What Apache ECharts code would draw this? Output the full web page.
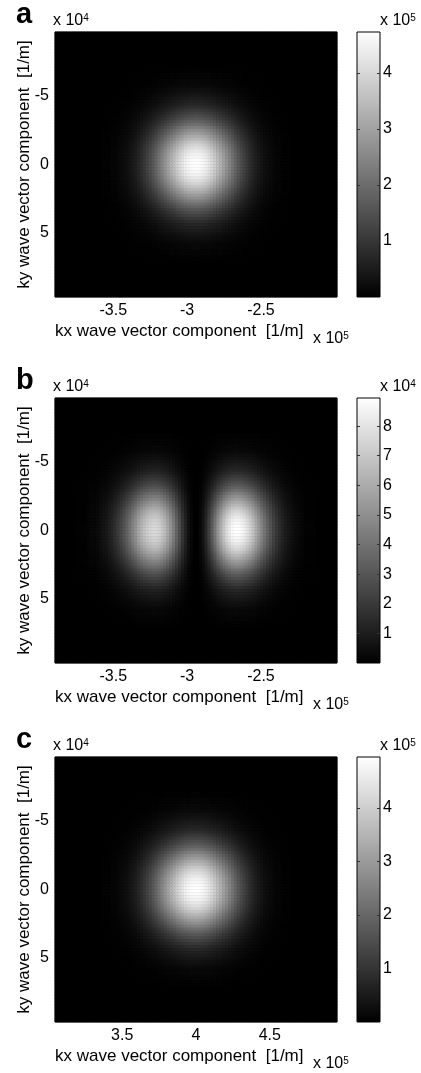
<!DOCTYPE html>
<html>
<head>
<meta charset="utf-8">
<script src="https://cdn.jsdelivr.net/npm/echarts@6/dist/echarts.min.js"></script>
<style>
  html, body { margin: 0; padding: 0; background: #fff; }
  #chart { width: 421px; height: 1073px; }
</style>
</head>
<body>
<div id="chart"></div>
<script>
// ---- axis extents [1/m] ----
const kxRangeA = [-3.895e5, -1.985e5];
const kxRangeB = [-3.895e5, -1.985e5];
const kxRangeC = [3.045e5, 4.955e5];
const kyRange = [-9.67e4, 9.67e4];

// ---- tick values ----
const kxTicksA = [-3.5e5, -3e5, -2.5e5];
const kxTicksB = [-3.5e5, -3e5, -2.5e5];
const kxTicksC = [3.5e5, 4e5, 4.5e5];
const kyTicks = [-5e4, 0, 5e4];
const cbarTicksA = [1e5, 2e5, 3e5, 4e5];
const cbarTicksB = [1e4, 2e4, 3e4, 4e4, 5e4, 6e4, 7e4, 8e4];
const cbarTicksC = [1e5, 2e5, 3e5, 4e5];

// ---- peak intensity of each map (top of its colour bar) ----
const peakA = 4.73e5;
const peakB = 8.95e4;
const peakC = 4.95e5;

// ---- relative intensity profiles across kx (96 cells) and ky (90 cells) ----
const profileAx = [0,0,0,0,0,0,0,0,0,0,0,0,0,0,0,0,
  .01,.01,.01,.02,.02,.03,.04,.05,.06,.08,.10,.12,.15,.18,.22,.26,.30,.35,.40,.46,.52,.58,.64,.70,.75,.81,.86,.90,.94,.97,.99,1.00,
  1.00,.99,.97,.94,.90,.86,.81,.75,.70,.64,.58,.52,.46,.40,.35,.30,.26,.22,.18,.15,.12,.10,.08,.06,.05,.04,.03,.02,.02,.01,.01,.01,
  0,0,0,0,0,0,0,0,0,0,0,0,0,0,0,0];
const profileAy = [0,0,0,0,0,0,0,0,0,0,0,0,
  .01,.01,.02,.02,.03,.03,.04,.06,.07,.09,.11,.13,.15,.18,.22,.26,.30,.34,.39,.44,.50,.56,.61,.67,.72,.78,.83,.87,.91,.95,.97,.99,1.00,
  1.00,.99,.97,.95,.91,.87,.83,.78,.72,.67,.61,.56,.50,.44,.39,.34,.30,.26,.22,.18,.15,.13,.11,.09,.07,.06,.04,.03,.03,.02,.02,.01,.01,
  0,0,0,0,0,0,0,0,0,0,0,0];

const profileBx = [0,0,0,0,0,0,0,
  .01,.01,.01,.01,.02,.03,.03,.04,.06,.08,.09,.12,.15,.19,.23,.28,.33,.39,.45,.52,.58,.65,.71,.76,.80,.83,.85,.85,.83,.79,.74,.67,.59,.50,.40,.31,.21,.14,.07,.03,.00,
  .00,.03,.08,.16,.25,.36,.47,.59,.69,.79,.87,.93,.98,1.00,1.00,.98,.94,.89,.83,.76,.68,.61,.53,.46,.39,.33,.27,.22,.18,.14,.11,.09,.07,.05,.04,.03,.02,.01,.01,.01,.01,
  0,0,0,0,0,0,0];
const profileBy = [0,0,0,0,0,0,0,0,0,0,0,0,
  .01,.01,.02,.02,.03,.03,.04,.06,.07,.09,.11,.13,.15,.18,.22,.26,.30,.34,.39,.44,.50,.56,.61,.67,.72,.78,.83,.87,.91,.95,.97,.99,1.00,
  1.00,.99,.97,.95,.91,.87,.83,.78,.72,.67,.61,.56,.50,.44,.39,.34,.30,.26,.22,.18,.15,.13,.11,.09,.07,.06,.04,.03,.03,.02,.02,.01,.01,
  0,0,0,0,0,0,0,0,0,0,0,0];

const profileCx = [0,0,0,0,0,0,0,0,0,0,0,0,0,0,0,0,
  .01,.01,.01,.02,.02,.03,.04,.05,.06,.08,.10,.12,.15,.18,.22,.26,.30,.35,.40,.46,.52,.58,.64,.70,.75,.81,.86,.90,.94,.97,.99,1.00,
  1.00,.99,.97,.94,.90,.86,.81,.75,.70,.64,.58,.52,.46,.40,.35,.30,.26,.22,.18,.15,.12,.10,.08,.06,.05,.04,.03,.02,.02,.01,.01,.01,
  0,0,0,0,0,0,0,0,0,0,0,0,0,0,0,0];
const profileCy = [0,0,0,0,0,0,0,0,0,0,0,0,
  .01,.01,.02,.02,.03,.03,.04,.06,.07,.09,.11,.13,.15,.18,.22,.26,.30,.34,.39,.44,.50,.56,.61,.67,.72,.78,.83,.87,.91,.95,.97,.99,1.00,
  1.00,.99,.97,.95,.91,.87,.83,.78,.72,.67,.61,.56,.50,.44,.39,.34,.30,.26,.22,.18,.15,.13,.11,.09,.07,.06,.04,.03,.03,.02,.02,.01,.01,
  0,0,0,0,0,0,0,0,0,0,0,0];

// ---- page layout ----
const FONT = '"Liberation Sans", Arial, Helvetica, sans-serif';
const plotLeft = 55, plotW = 282, plotH = 265;
const cbLeft = 357, cbW = 23;
const panelTops = [32, 398, 757];

const panels = [
  { letter: 'a', kx: kxRangeA, xt: kxTicksA, px: profileAx, py: profileAy, peak: peakA, ct: cbarTicksA, cexp: 5 },
  { letter: 'b', kx: kxRangeB, xt: kxTicksB, px: profileBx, py: profileBy, peak: peakB, ct: cbarTicksB, cexp: 4 },
  { letter: 'c', kx: kxRangeC, xt: kxTicksC, px: profileCx, py: profileCy, peak: peakC, ct: cbarTicksC, cexp: 5 }
];

// intensity table: peak * kx-profile * ky-profile
function buildCells(p) {
  const out = [];
  for (let i = 0; i < p.px.length; i++) {
    for (let j = 0; j < p.py.length; j++) {
      out.push([i, j, p.peak * p.px[i] * p.py[j]]);
    }
  }
  return out;
}

function expText(x, y, n, size) {
  return {
    type: 'text', x: x, y: y, silent: true,
    style: {
      text: '{b|x 10}{s|' + n + '}',
      verticalAlign: 'middle',
      rich: {
        b: { fontSize: size, fontFamily: FONT, fill: '#000' },
        s: { fontSize: Math.round(size * 0.62), fontFamily: FONT, fill: '#000', verticalAlign: 'top' }
      }
    }
  };
}

const labelStyle = { color: '#000', fontSize: 16, fontFamily: FONT };
const noLine = { show: false, onZero: false };

const option = {
  animation: false,
  backgroundColor: '#fff',
  grid: [], xAxis: [], yAxis: [], series: [], visualMap: [], graphic: []
};

panels.forEach((p, k) => {
  const top = panelTops[k];
  const bottom = top + plotH;
  const g = option.grid.length;

  // image area and colour bar
  option.grid.push({ left: plotLeft, top: top, width: plotW, height: plotH, show: true,
    backgroundColor: '#000', borderColor: '#000', borderWidth: 1 });
  option.grid.push({ left: cbLeft, top: top, width: cbW, height: plotH, show: true,
    borderColor: '#000', borderWidth: 1,
    backgroundColor: { type: 'linear', x: 0, y: 0, x2: 0, y2: 1,
      colorStops: [{ offset: 0, color: '#ffffff' }, { offset: 1, color: '#000000' }] } });

  const xi = option.xAxis.length;
  option.xAxis.push({ type: 'category', gridIndex: g, position: 'top', show: false,
    axisLine: noLine, data: p.px.map((_, i) => i) });
  option.xAxis.push({ type: 'value', gridIndex: g, position: 'bottom', min: p.kx[0], max: p.kx[1],
    axisLine: noLine, axisTick: { show: false }, splitLine: { show: false },
    axisLabel: Object.assign({ customValues: p.xt, margin: 6, formatter: v => String(v / 1e5) }, labelStyle) });
  option.xAxis.push({ type: 'value', gridIndex: g + 1, min: 0, max: 1, show: false, axisLine: noLine });

  const yi = option.yAxis.length;
  option.yAxis.push({ type: 'category', gridIndex: g, position: 'right', inverse: true, show: false,
    axisLine: noLine, data: p.py.map((_, j) => j) });
  option.yAxis.push({ type: 'value', gridIndex: g, position: 'left', inverse: true,
    min: kyRange[0], max: kyRange[1],
    axisLine: noLine, axisTick: { show: false }, splitLine: { show: false },
    axisLabel: Object.assign({ customValues: kyTicks, margin: 6, formatter: v => String(v / 1e4) }, labelStyle) });
  const cdiv = Math.pow(10, p.cexp);
  option.yAxis.push({ type: 'value', gridIndex: g + 1, position: 'right', min: 0, max: p.peak,
    axisLine: noLine, splitLine: { show: false },
    axisTick: { show: true, inside: true, length: 3, customValues: p.ct, lineStyle: { color: '#333' } },
    axisLabel: Object.assign({ customValues: p.ct, margin: 3, formatter: v => String(Math.round(v / cdiv)) }, labelStyle) });
  option.yAxis.push({ type: 'value', gridIndex: g + 1, position: 'left', min: 0, max: p.peak,
    axisLine: noLine, splitLine: { show: false },
    axisTick: { show: true, inside: true, length: 3, customValues: p.ct, lineStyle: { color: '#333' } },
    axisLabel: { show: false } });

  option.series.push({ type: 'heatmap', xAxisIndex: xi, yAxisIndex: yi, data: buildCells(p),
    progressive: 0, emphasis: { disabled: true }, itemStyle: { borderWidth: 0 } });
  option.visualMap.push({ type: 'continuous', show: false, seriesIndex: k, dimension: 2,
    min: 0, max: p.peak, inRange: { color: ['#000000', '#ffffff'] } });

  // panel letter, exponents and axis titles
  option.graphic.push({ type: 'text', x: 16, y: top - 17, silent: true,
    style: { text: p.letter, font: 'bold 29px ' + FONT, fill: '#000', verticalAlign: 'middle' } });
  option.graphic.push(expText(53, top - 11, 4, 16));
  option.graphic.push(expText(380, top - 11, p.cexp, 16));
  option.graphic.push({ type: 'text', x: plotLeft, y: bottom + 34, silent: true,
    style: { text: 'kx wave vector component  [1/m]', font: '17px ' + FONT, fill: '#000', verticalAlign: 'middle' } });
  option.graphic.push(expText(313, bottom + 42, 5, 16));
  option.graphic.push({ type: 'text', x: 24, y: top + plotH / 2, rotation: Math.PI / 2, silent: true,
    style: { text: 'ky wave vector component  [1/m]', font: '17px ' + FONT, fill: '#000',
      align: 'center', verticalAlign: 'middle' } });
});

const chart = echarts.init(document.getElementById('chart'), null, { renderer: 'canvas' });
chart.setOption(option);
</script>
</body>
</html>
